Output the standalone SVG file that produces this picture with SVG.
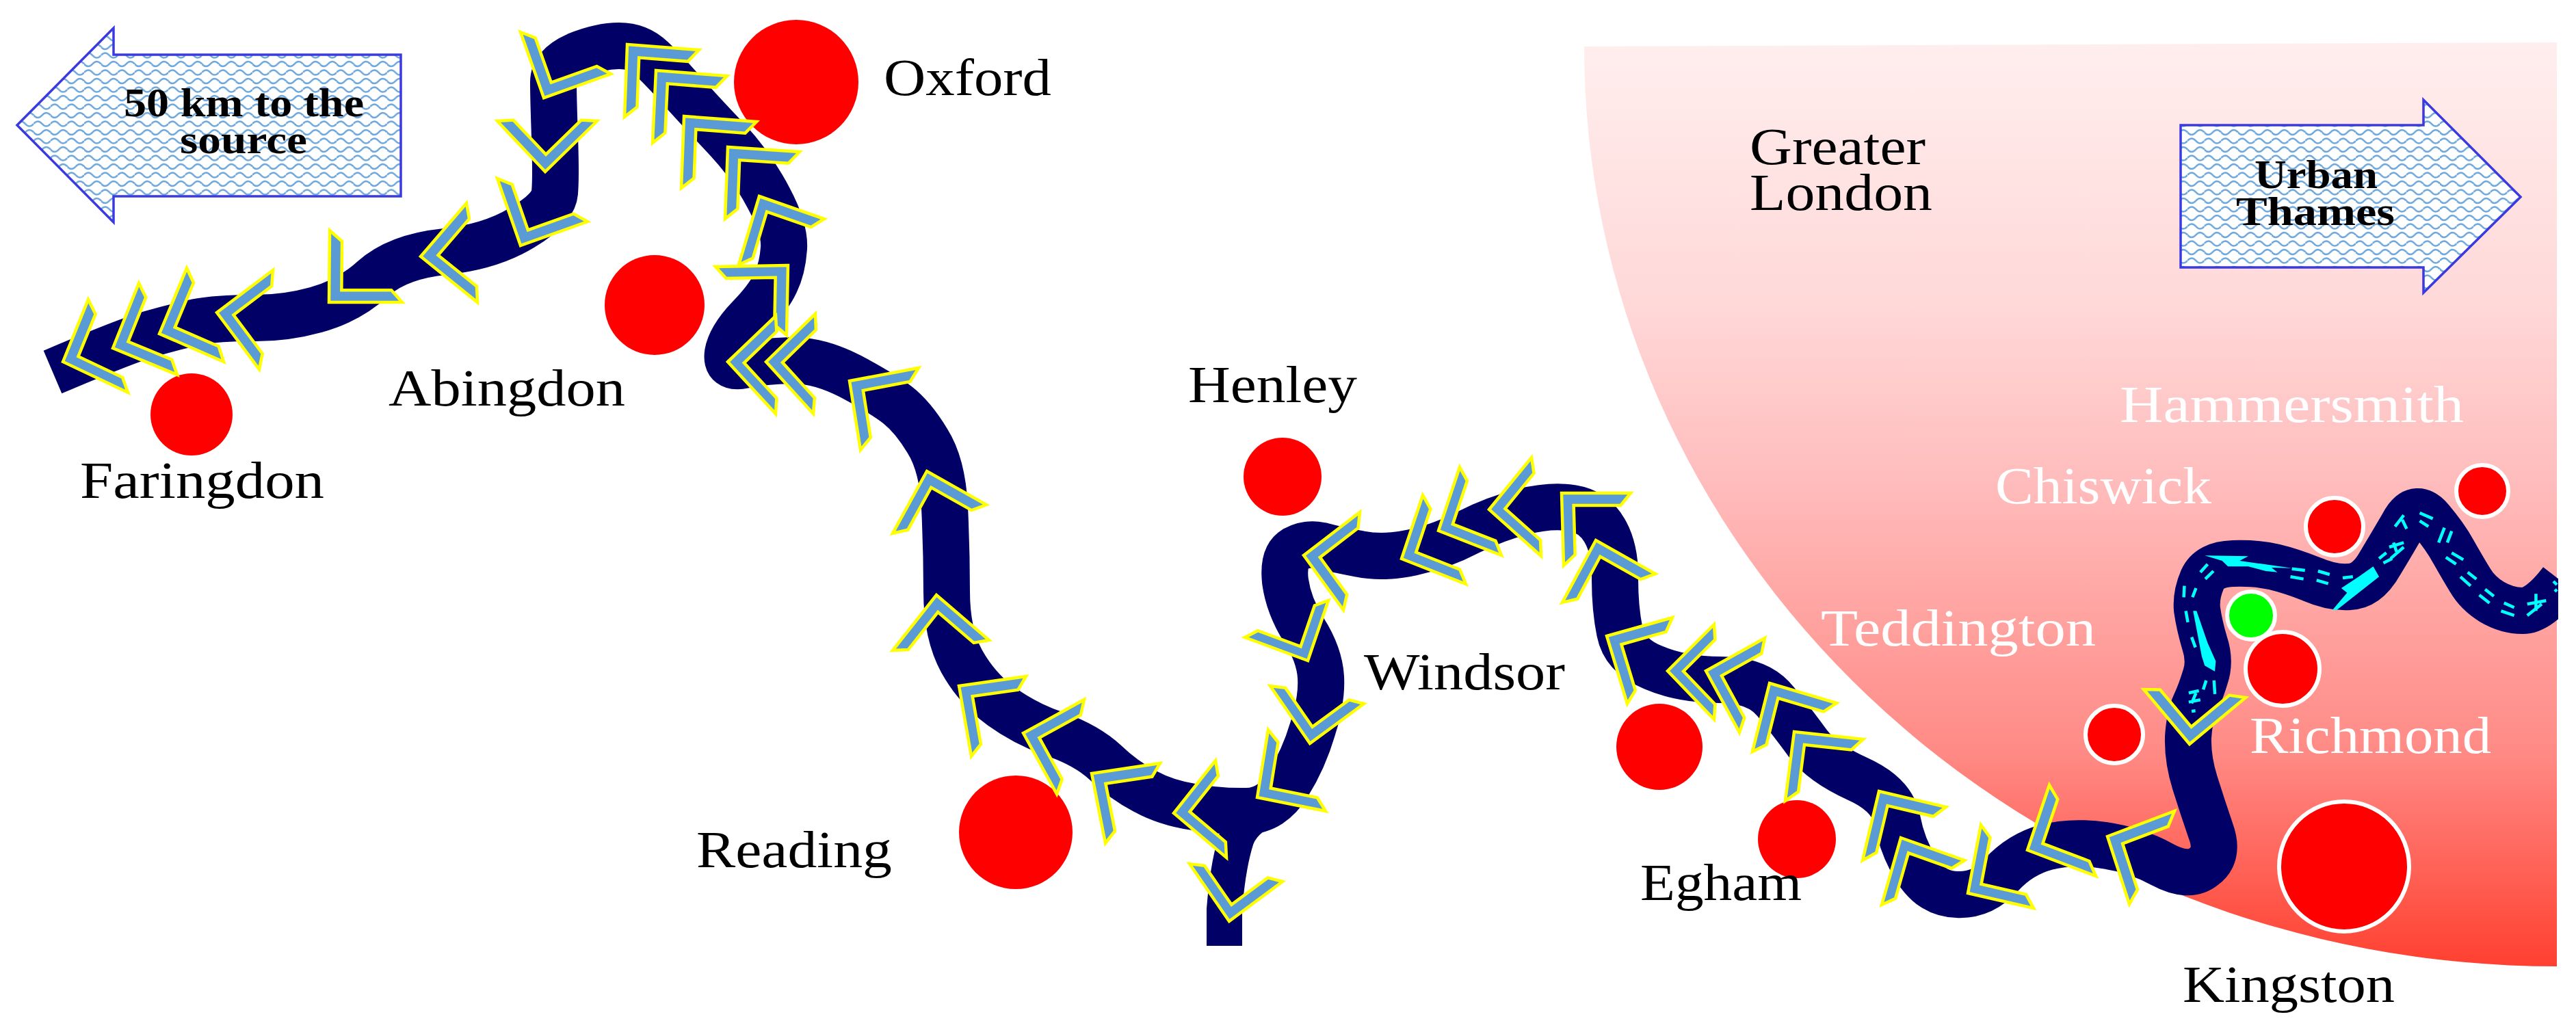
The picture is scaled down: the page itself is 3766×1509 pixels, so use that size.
<svg xmlns="http://www.w3.org/2000/svg" xmlns:xlink="http://www.w3.org/1999/xlink" width="3766" height="1509" viewBox="0 0 3766 1509">
<style>
text{font-family:"Liberation Serif","DejaVu Serif",serif;font-size:76px;fill:#000}
.w{fill:#fff}
.b{font-weight:bold;font-size:60px}
.arrow{fill:url(#waves);stroke:#3a3ae0;stroke-width:3.5}
.city{fill:#f00}
.ring{stroke:#fff;stroke-width:6}
.chev{fill:#5b9bd5;stroke:#ffff00;stroke-width:4.5;vector-effect:non-scaling-stroke;stroke-linejoin:miter}
.river{fill:none;stroke:#000066;stroke-linejoin:round}
.lane{fill:none;stroke:#00ffff;stroke-width:4.5;vector-effect:non-scaling-stroke}
.boat{fill:#00ffff}
</style>
<defs>
<linearGradient id="lon" x1="0" y1="0" x2="0" y2="1">
<stop offset="0" stop-color="#ffeeee"/><stop offset=".285" stop-color="#ffd8d8"/><stop offset=".47" stop-color="#ffbdbd"/><stop offset=".77" stop-color="#ff8a85"/><stop offset="1" stop-color="#ff4030"/>
</linearGradient>
<pattern id="waves" width="24.6" height="25" patternUnits="userSpaceOnUse">
<rect width="24.6" height="25" fill="#fff"/>
<path d="M0,6 Q6,-1 12.3,6 T24.6,6" fill="none" stroke="#6fa8dc" stroke-width="2.6"/>
<path d="M-12.3,18.5 Q-6,11.5 0,18.5 T12.3,18.5 T24.6,18.5" fill="none" stroke="#6fa8dc" stroke-width="2.6"/>
</pattern>
<polygon id="c" class="chev" points="0,0 1,0 .85,.17 .17,.17 .17,.85 0,1"/>
<clipPath id="clip"><rect x="0" y="0" width="3740" height="1509"/></clipPath>
</defs>
<path id="greater-london" fill="url(#lon)" d="M2316,68 L3738,62 L3738,1413 A1422,1345 0 0 1 2316,68 Z"/>
<g id="arrow-source">
<polygon class="arrow" points="25,183 166,41 166,80 586,80 586,287 166,287 166,325"/>
<text class="b"><tspan x="181" y="170" textLength="351" lengthAdjust="spacingAndGlyphs">50 km to the</tspan><tspan x="263" y="224" textLength="186" lengthAdjust="spacingAndGlyphs">source</tspan></text>
</g>
<g id="arrow-urban">
<polygon class="arrow" points="3188,183 3543,183 3543,146 3685,288 3543,428 3543,391 3188,391"/>
<text class="b"><tspan x="3296" y="275" textLength="180" lengthAdjust="spacingAndGlyphs">Urban</tspan><tspan x="3269" y="329" textLength="232" lengthAdjust="spacingAndGlyphs">Thames</tspan></text>
</g>
<g id="connectors" clip-path="url(#clip)">
<path id="river-tail" class="river" stroke-width="52" d="M1790,1383 L1790,1330 Q1795,1265 1808,1225 Q1820,1195 1860,1180"/>
<path id="river" class="river" stroke-width="68" d="M77,544 Q185,498 220,488 Q255,478 287,471 Q319,465 367,465 Q415,466 462,453 Q510,440 546,407 Q582,375 650,368 Q717,361 763,333 Q809,306 811,282 Q813,258 811,200 Q809,143 809,120 Q809,96 843,81 Q877,67 905,67 Q933,67 953,86 Q973,105 1000,136 Q1028,167 1064,205 Q1100,244 1124,290 Q1148,335 1146,363 Q1144,392 1134,413 Q1124,435 1096,464 Q1068,493 1064,516 Q1060,540 1088,534 Q1116,528 1156,527 Q1196,526 1243,550 Q1290,575 1312,592 Q1335,610 1356,645 Q1378,680 1381,742 Q1384,804 1384,865 Q1384,927 1406,967 Q1429,1008 1464,1033 Q1500,1059 1544,1074 Q1589,1090 1616,1115 Q1643,1141 1674,1157 Q1705,1174 1745,1180 Q1786,1187 1823,1186 Q1860,1185 1883,1147 Q1906,1110 1919,1066 Q1933,1023 1931,990 Q1929,957 1906,921 Q1884,886 1879,850 Q1875,814 1893,803 Q1911,793 1933,798 Q1955,804 1988,810 Q2022,817 2064,808 Q2107,799 2147,778 Q2187,758 2227,748 Q2268,738 2299,743 Q2330,748 2346,776 Q2362,804 2361,847 Q2361,890 2368,924 Q2375,959 2417,976 Q2459,994 2515,994 Q2571,994 2596,1026 Q2622,1058 2643,1087 Q2665,1116 2716,1139 Q2767,1162 2774,1200 Q2781,1238 2802,1272 Q2824,1307 2861,1308 Q2898,1310 2926,1279 Q2954,1249 2991,1239 Q3029,1229 3076,1236 Q3123,1243 3161,1264 Q3200,1285 3222,1267 Q3245,1250 3232,1215 Q3220,1180 3209,1145 Q3198,1110 3199,1078 Q3201,1047 3209,1030 Q3217,1013 3224,990 Q3232,967 3223,940 Q3215,913 3212,891 Q3210,870 3220,847 Q3230,825 3265,824 Q3300,823 3325,829 Q3350,835 3380,847 Q3410,860 3435,858 Q3461,857 3480,823 Q3500,790 3516,762 Q3533,735 3554,760 Q3575,785 3587,807 Q3600,830 3611,848 Q3622,867 3643,880 Q3665,893 3688,893 Q3712,893 3745,850"/>
<g id="urban-lanes" transform="translate(3100 680) scale(.4248 .3333)">
<path class="lane" d="M322,945L325,1005M295,945L285,985M235,1000L270,990M260,1000L245,1045M235,1040L275,1030M245,1080L258,1078M225,640L232,690M245,755L258,800M220,530L218,580M260,540L248,580M275,470L300,435M292,500L320,465M590,455L635,462M585,490L630,500M680,465L720,480M675,505L715,520M765,495L800,490M890,410L915,385M905,430L935,410M925,360L975,340M930,410L975,360M940,340L950,380M945,270L975,220M985,280L970,240M1030,210L1075,235M1030,245L1060,270M1095,340L1115,275M1125,340L1140,290M1120,405L1155,435M1140,385L1180,415M1170,490L1205,530M1195,470L1225,500M1235,570L1270,605M1255,545L1285,575M1310,640L1355,660M1320,605L1355,625M1400,660L1450,610M1400,610L1465,595M1430,565L1430,640M1490,510L1502,525M1495,545L1502,555"/>
<polygon class="boat" points="250,640 262,640 300,780 328,860 325,905 290,880 280,840"/>
<polygon class="boat" points="290,397 440,400 410,420 590,452 520,450 540,470 500,465 440,445 370,445 350,420"/>
<polygon class="boat" points="730,635 745,635 890,490 870,445 820,490 760,540 780,560"/>
</g>
</g>
<g id="faringdon"><circle class="city" cx="280" cy="606" r="60"/><text x="117" y="728" textLength="357" lengthAdjust="spacingAndGlyphs">Faringdon</text></g>
<g id="abingdon"><circle class="city" cx="957" cy="446" r="73"/><text x="568" y="593" textLength="346" lengthAdjust="spacingAndGlyphs">Abingdon</text></g>
<g id="oxford"><circle class="city" cx="1164" cy="120" r="91"/><text x="1292" y="139" textLength="245" lengthAdjust="spacingAndGlyphs">Oxford</text></g>
<g id="henley"><circle class="city" cx="1875" cy="697" r="57"/><text x="1737" y="588" textLength="247" lengthAdjust="spacingAndGlyphs">Henley</text></g>
<g id="reading"><circle class="city" cx="1485" cy="1217" r="83"/><text x="1018" y="1268" textLength="286" lengthAdjust="spacingAndGlyphs">Reading</text></g>
<g id="windsor"><circle class="city" cx="2426" cy="1092" r="63"/><text x="1994" y="1008" textLength="294" lengthAdjust="spacingAndGlyphs">Windsor</text></g>
<g id="egham"><circle class="city" cx="2627" cy="1227" r="57"/><text x="2398" y="1316" textLength="236" lengthAdjust="spacingAndGlyphs">Egham</text></g>
<g id="greater-london-label"><text><tspan x="2558" y="240" textLength="257" lengthAdjust="spacingAndGlyphs">Greater</tspan><tspan x="2558" y="307" textLength="267" lengthAdjust="spacingAndGlyphs">London</tspan></text></g>
<g id="kingston"><circle class="city ring" cx="3427" cy="1267" r="95"/><text x="3191" y="1465" textLength="310" lengthAdjust="spacingAndGlyphs">Kingston</text></g>
<g id="teddington"><circle class="city ring" cx="3091" cy="1074" r="42"/><text class="w" x="2662" y="944" textLength="402" lengthAdjust="spacingAndGlyphs">Teddington</text></g>
<g id="richmond"><circle class="city ring" cx="3337" cy="978" r="54"/><text class="w" x="3289" y="1101" textLength="353" lengthAdjust="spacingAndGlyphs">Richmond</text></g>
<g id="barrier"><circle cx="3291" cy="900" r="35" fill="#00ff00" class="ring"/></g>
<g id="chiswick"><circle class="city ring" cx="3413" cy="770" r="42"/><text class="w" x="2917" y="736" textLength="316" lengthAdjust="spacingAndGlyphs">Chiswick</text></g>
<g id="hammersmith"><circle class="city ring" cx="3629" cy="718" r="38"/><text class="w" x="3099" y="617" textLength="503" lengthAdjust="spacingAndGlyphs">Hammersmith</text></g>
<g id="chevrons">
<use href="#c" transform="matrix(37 -91 95 45 92 529)"/>
<use href="#c" transform="matrix(38 -95 94 39 165 509)"/>
<use href="#c" transform="matrix(40 -96 94 41 233 488)"/>
<use href="#c" transform="matrix(82 -62 62 83 317 457)"/>
<use href="#c" transform="matrix(1 -105 107 0 481 442)"/>
<use href="#c" transform="matrix(67 -78 83 67 615 375)"/>
<use href="#c" transform="matrix(-34 -98 98 -35 761 359)"/>
<use href="#c" transform="matrix(-70 -74 76 -74 797 251)"/>
<use href="#c" transform="matrix(-34 -96 98 -35 795 143)"/>
<use href="#c" transform="matrix(105 8 -4 106 917 65)"/>
<use href="#c" transform="matrix(104 8 -5 106 959 103)"/>
<use href="#c" transform="matrix(106 8 -4 105 1000 170)"/>
<use href="#c" transform="matrix(105 7 -4 105 1064 215)"/>
<use href="#c" transform="matrix(95 33 -30 100 1110 287)"/>
<use href="#c" transform="matrix(-106 2 -2 102 1152 388)"/>
<use href="#c" transform="matrix(70 -67 70 76 1064 529)"/>
<use href="#c" transform="matrix(72 -70 69 76 1120 529)"/>
<use href="#c" transform="matrix(101 -19 16 101 1242 557)"/>
<use href="#c" transform="matrix(87 49 -50 91 1355 689)"/>
<use href="#c" transform="matrix(77 66 -64 81 1369 870)"/>
<use href="#c" transform="matrix(98 -14 18 103 1402 1003)"/>
<use href="#c" transform="matrix(89 -49 49 89 1496 1072)"/>
<use href="#c" transform="matrix(100 -15 20 102 1596 1131)"/>
<use href="#c" transform="matrix(61 -77 77 65 1716 1189)"/>
<use href="#c" transform="matrix(16 -99 100 20 1838 1166)"/>
<use href="#c" transform="matrix(-58 -84 79 -58 1915 1087)"/>
<use href="#c" transform="matrix(-92 -34 30 -88 1912 966)"/>
<use href="#c" transform="matrix(-58 -84 78 -58 1797 1347)"/>
<use href="#c" transform="matrix(82 -63 58 80 1906 812)"/>
<use href="#c" transform="matrix(31 -93 94 37 2049 817)"/>
<use href="#c" transform="matrix(31 -93 92 36 2103 776)"/>
<use href="#c" transform="matrix(62 -76 76 68 2177 745)"/>
<use href="#c" transform="matrix(101 0 3 106 2283 721)"/>
<use href="#c" transform="matrix(87 49 -49 91 2333 790)"/>
<use href="#c" transform="matrix(96 -27 30 99 2349 930)"/>
<use href="#c" transform="matrix(68 -68 68 71 2438 981)"/>
<use href="#c" transform="matrix(86 -48 49 90 2494 981)"/>
<use href="#c" transform="matrix(98 29 -25 100 2587 999)"/>
<use href="#c" transform="matrix(101 11 -13 101 2623 1070)"/>
<use href="#c" transform="matrix(98 23 -24 101 2747 1157)"/>
<use href="#c" transform="matrix(93 33 -28 98 2779 1225)"/>
<use href="#c" transform="matrix(19 -100 96 22 2877 1306)"/>
<use href="#c" transform="matrix(32 -95 100 38 2964 1243)"/>
<use href="#c" transform="matrix(98 -37 32 99 3081 1223)"/>
<use href="#c" transform="matrix(-67 -80 82 -68 3201 1088)"/>
</g>
</svg>
